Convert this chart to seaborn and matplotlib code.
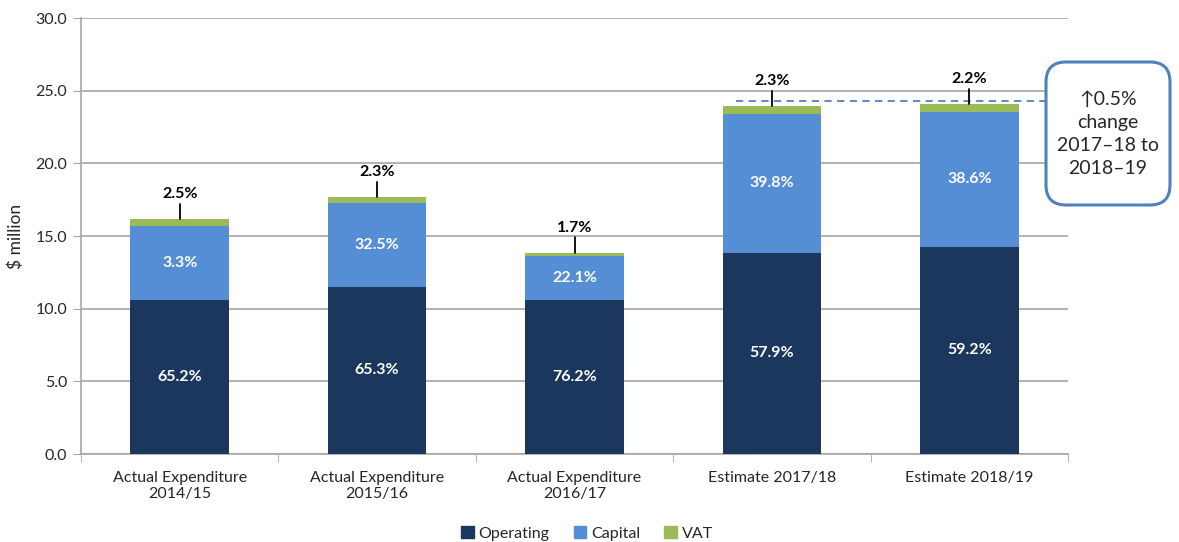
import numpy as np
import pandas as pd
import matplotlib
matplotlib.use("Agg")
import matplotlib.pyplot as plt
from matplotlib.patches import FancyBboxPatch, Patch
import seaborn as sns

categories = ["Actual Expenditure\n2014/15", "Actual Expenditure\n2015/16",
              "Actual Expenditure\n2016/17", "Estimate 2017/18", "Estimate 2018/19"]
operating = [10.6, 11.5, 10.6, 13.85, 14.25]
capital = [5.1, 5.8, 3.0, 9.55, 9.3]
vat = [0.45, 0.4, 0.25, 0.55, 0.5]
operating_pct = ["65.2%", "65.3%", "76.2%", "57.9%", "59.2%"]
capital_pct = ["3.3%", "32.5%", "22.1%", "39.8%", "38.6%"]
vat_pct = ["2.5%", "2.3%", "1.7%", "2.3%", "2.2%"]
ref_level = 24.3

c_op = "#1B375E"
c_cap = "#558ED5"
c_vat = "#9BBB59"

sns.set_style("white")
plt.rcParams["font.family"] = ["Lato", "DejaVu Sans"]

df = pd.DataFrame({"cat": categories, "op": operating, "cap": capital, "vat": vat})
df["op_cap"] = df["op"] + df["cap"]
df["total"] = df["op_cap"] + df["vat"]

fig = plt.figure(figsize=(11.79, 5.42), dpi=100)
ax = fig.add_axes([81 / 1179, 88 / 542, 987 / 1179, 436 / 542])

# stacked bars: draw cumulative totals back to front
sns.barplot(data=df, x="cat", y="total", color=c_vat, width=0.5, ax=ax, saturation=1, zorder=3)
sns.barplot(data=df, x="cat", y="op_cap", color=c_cap, width=0.5, ax=ax, saturation=1, zorder=3)
sns.barplot(data=df, x="cat", y="op", color=c_op, width=0.5, ax=ax, saturation=1, zorder=3)
for p in ax.patches:
    p.set_edgecolor("none")

ax.set_ylim(0, 30)
ax.set_xlim(-0.5, 4.5)
ax.set_yticks(np.arange(0, 30.1, 5))
ax.set_yticklabels([f"{v:.1f}" for v in np.arange(0, 30.1, 5)], fontsize=11.5)
ax.yaxis.grid(True, color="#A6A6A6", linewidth=1.2, zorder=0)
ax.set_axisbelow(True)
ax.set_xticks(range(len(categories)))
ax.set_xticklabels(categories, fontsize=11.5)
ax.tick_params(axis="x", length=0, pad=12)
ax.tick_params(axis="y", length=6, color="#A6A6A6", direction="out", left=True, pad=4)
ax.set_xticks(np.arange(-0.5, 5, 1), minor=True)
ax.tick_params(axis="x", which="minor", length=6, color="#A6A6A6", bottom=True)
for s in ["top", "right"]:
    ax.spines[s].set_visible(False)
ax.spines["left"].set_color("#A6A6A6")
ax.spines["bottom"].set_color("#A6A6A6")
ax.spines["left"].set_linewidth(1.2)
ax.spines["bottom"].set_linewidth(1.2)
ax.set_xlabel("")
ax.set_ylabel("\\$ million", fontsize=12.5, labelpad=8)

for i in range(len(categories)):
    ax.text(i, operating[i] / 2, operating_pct[i], ha="center", va="center",
            color="white", fontsize=11.5, fontweight="bold", zorder=5)
    ax.text(i, operating[i] + capital[i] / 2, capital_pct[i], ha="center", va="center",
            color="white", fontsize=11.5, fontweight="bold", zorder=5)
    top = df["total"][i]
    ax.plot([i, i], [top, top + 1.05], color="black", linewidth=1.3, zorder=5)
    ax.text(i, top + 1.25, vat_pct[i], ha="center", va="bottom",
            fontsize=11.5, fontweight="bold", color="black", zorder=5)

ax.plot([2.82, 4.4], [ref_level, ref_level], linestyle=(0, (4, 3)), color="#4F81BD",
        linewidth=1.3, zorder=4, clip_on=False)

box = FancyBboxPatch((10.46, 3.37), 1.24, 1.43, boxstyle="round,pad=0,rounding_size=0.2",
                     transform=fig.dpi_scale_trans, facecolor="white",
                     edgecolor="#4F81BD", linewidth=2.2, zorder=10)
fig.add_artist(box)
fig.text(11.08 / 11.79, 1 - 134 / 542, "\u21910.5%\nchange\n2017\u201318 to\n2018\u201319",
         ha="center", va="center", fontsize=14, linespacing=1.42, zorder=11,
         family=["Lato", "DejaVu Sans"])

handles = [Patch(color=c_op, label="Operating"), Patch(color=c_cap, label="Capital"),
           Patch(color=c_vat, label="VAT")]
fig.legend(handles=handles, loc="lower center", bbox_to_anchor=(0.498, -0.024), ncol=3,
           frameon=False, fontsize=11.5, handlelength=0.8, handleheight=0.8,
           handletextpad=0.3, columnspacing=1.5)

fig.savefig("out.png", dpi=100)
